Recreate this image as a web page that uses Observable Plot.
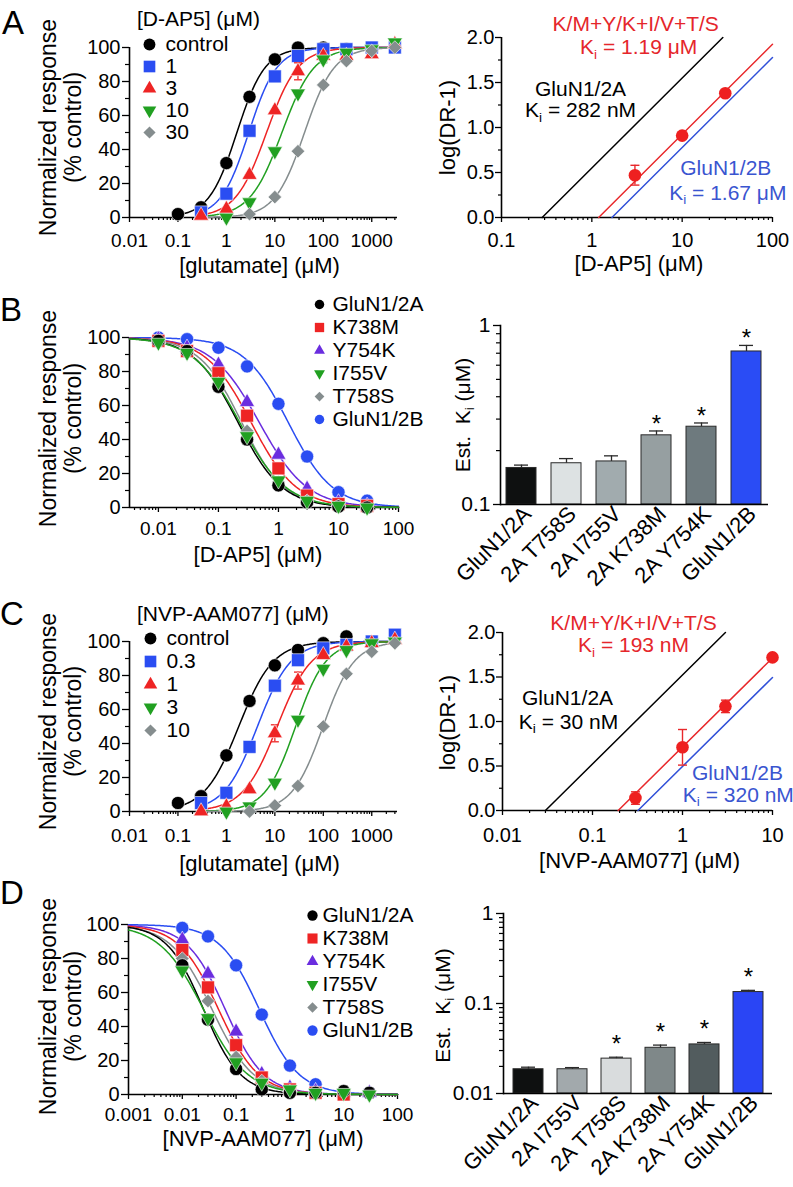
<!DOCTYPE html>
<html><head><meta charset="utf-8">
<script src="https://cdn.jsdelivr.net/npm/d3@7"></script>
<script src="https://cdn.jsdelivr.net/npm/@observablehq/plot@0.6"></script>
<style>
body{margin:0;background:#fff;}
#fig{position:relative;width:793px;height:1187px;overflow:hidden;background:#fff;font-family:"Liberation Sans",Arial,Helvetica,sans-serif;color:#000}
.p{position:absolute}
.letter{position:absolute;font-size:33px;line-height:33px}
.ltitle{position:absolute;font-size:21px;line-height:21px;white-space:nowrap}
</style></head>
<body><div id="fig"></div>
<script>
// ---------------- DATA ----------------
// Panel A (left): glutamate concentration-response in D-AP5
const aConc = [0.1, 0.3, 1, 3, 10, 30, 100, 300, 1000, 3000];
const aNames = ["control", "1", "3", "10", "30"];
const aResp = [
  [2, 6, 32, 71, 93, 100, 100, 99, 99, null],
  [null, 3, 14, 51, 83, 95, 99, 99, 100, 100],
  [null, 1, 5, 25, 63, 86, 95, 95, 96, 102],
  [null, null, 0, 9, 39, 73, 93, 97, 99, 103],
  [null, null, null, 2, 12, 39, 78, 92, 98, 100]
];
const aErr = [
  [0, 0, 0, 0, 0, 0, 0, 0, 0, 0],
  [0, 0, 0, 0, 0, 0, 0, 0, 0, 0],
  [0, 0, 0, 0, 0, 5, 3, 0, 0, 3],
  [0, 0, 0, 0, 0, 0, 2, 0, 0, 0],
  [0, 0, 0, 0, 0, 0, 0, 0, 0, 0]
];
const aEC50 = [1.65, 2.9, 6.75, 14, 41];
const aHill = [1.5, 1.5, 1.35, 1.31, 1.42];
const aCurveStart = [0.1, 0.3, 0.3, 0.3, 0.3];
const aColors = ["#000000", "#2a4df2", "#ee2424", "#21a021", "#858d8e"];
const aSymbols = ["circle", "square", "triangle", "triangleDown", "diamond"];
const aLegendTitle = "[D-AP5] (μM)";

// Panel A (right): Schild plot D-AP5
const sAConc = [3, 10, 30];
const sAVal = [0.47, 0.91, 1.38];
const sAErr = [0.11, 0.03, 0.03];
const sAKi = [0.282, 1.19, 1.67];
const sANoteText = ["K/M+Y/K+I/V+T/S", "K_i = 1.19 μM", "GluN1/2A", "K_i = 282 nM", "GluN1/2B", "K_i = 1.67 μM"];
const sANoteX = [3.06, 3.3, 0.75, 0.75, 30.4, 32];
const sANoteY = [2.15, 1.886, 1.43, 1.186, 0.552, 0.274];
const sANoteColor = ["red", "red", "black", "black", "blue", "blue"];

// Panel B (left): D-AP5 inhibition
const bConc = [0.01, 0.03, 0.1, 0.3, 1, 3, 10, 30];
const bNames = ["GluN1/2A", "K738M", "Y754K", "I755V", "T758S", "GluN1/2B"];
const bResp = [
  [98, 92, 71, 40, 13, 3, 0.5, 0],
  [98, 92, 79, 54, 23, 7, 2, 1],
  [99, 94, 84, 62, 31, 11, 3, 1],
  [97, 91, 74, 42, 16, 4, 1, 0],
  [98, 92, 73, 45, 15, 4, 1, 0],
  [100, 99, 94, 83, 61, 30, 9, 4]
];
const bIC50 = [0.213, 0.351, 0.48, 0.226, 0.245, 1.46];
const bHill = [1.18, 1.15, 1.09, 1.13, 1.22, 1.18];
const bColors = ["#000000", "#ee2424", "#6a2ddf", "#21a021", "#858d8e", "#2a4df2"];
const bSymbols = ["circle", "square", "triangle", "triangleDown", "diamond", "circle"];
const bOrder = [5, 2, 1, 4, 0, 3];

// Panel B (right): estimated Ki bars
const bBarLabels = ["GluN1/2A", "2A T758S", "2A I755V", "2A K738M", "2A Y754K", "GluN1/2B"];
const bBarKi = [0.160, 0.170, 0.174, 0.2435, 0.272, 0.716];
const bBarErr = [0.006, 0.0105, 0.013, 0.014, 0.0134, 0.058];
const bBarColors = ["#0e1010", "#dde2e3", "#a1abae", "#969fa1", "#6e7a7e", "#2a4cf5"];
const bBarSig = [false, false, false, true, true, true];

// Panel C (left): glutamate concentration-response in NVP-AAM077
const cConc = [0.1, 0.3, 1, 3, 10, 30, 100, 300, 1000, 3000];
const cNames = ["control", "0.3", "1", "3", "10"];
const cResp = [
  [5, 9, 33, 65, 86, 95, 99, 103, null, null],
  [null, 5, 11, 38, 74, 89, 96, 98, 100, 104],
  [null, 0, 3, 13, 46, 77, 92, 97, 99, 101],
  [null, null, 0, 3, 17, 54, 84, 95, 99, 100],
  [null, null, null, 0, 3.5, 15, 50, 81, 94, 99]
];
const cErr = [
  [0, 0, 0, 0, 0, 0, 0, 0, 0, 0],
  [0, 0, 0, 0, 0, 2, 0, 0, 0, 0],
  [0, 0, 0, 0, 5, 5, 0, 0, 0, 0],
  [0, 0, 0, 0, 0, 0, 0, 0, 0, 0],
  [0, 0, 0, 0, 0, 0, 0, 0, 0, 0]
];
const cEC50 = [1.8, 4.37, 11.2, 26.8, 99];
const cHill = [1.22, 1.26, 1.23, 1.4, 1.36];
const cCurveStart = [0.1, 0.3, 0.3, 0.3, 0.3];
const cColors = aColors;
const cSymbols = aSymbols;
const cLegendTitle = "[NVP-AAM077] (μM)";

// Panel C (right): Schild plot NVP-AAM077
const sCConc = [0.3, 1, 3, 10];
const sCVal = [0.14, 0.71, 1.17, 1.72];
const sCErr = [0.07, 0.2, 0.07, 0.02];
const sCKi = [0.030, 0.193, 0.320];
const sCNoteText = ["K/M+Y/K+I/V+T/S", "K_i = 193 nM", "GluN1/2A", "K_i = 30 nM", "GluN1/2B", "K_i = 320 nM"];
const sCNoteX = [0.2856, 0.2856, 0.0528, 0.0541, 4.08, 4.17];
const sCNoteY = [2.109, 1.851, 1.256, 0.987, 0.415, 0.168];
const sCNoteColor = sANoteColor;

// Panel D (left): NVP-AAM077 inhibition
const dConc = [0.01, 0.03, 0.1, 0.3, 1, 3, 10, 30];
const dNames = bNames;
const dResp = [
  [76, 44, 15, 3, 1, 1, 2, 1],
  [85, 63, 29, 10, 3, 1, 0, null],
  [91, 71, 37, 12, 4, 2, 1, 1],
  [73, 45, 19, 7, 3, 1, 1, 0],
  [80, 55, 22, 8, 2, 1, null, null],
  [98, 93, 76, 47, 17, 6, 1, 1]
];
const dErr = [
  [0, 0, 0, 0, 0, 0, 3, 3],
  [0, 0, 0, 0, 0, 0, 0, 0],
  [0, 0, 0, 0, 0, 0, 0, 0],
  [0, 0, 0, 0, 0, 0, 0, 0],
  [0, 0, 0, 0, 0, 0, 0, 0],
  [0, 0, 0, 0, 0, 0, 0, 3]
];
const dIC50 = [0.0249, 0.0473, 0.0629, 0.0249, 0.0358, 0.271];
const dHill = [1.27, 1.17, 1.21, 1.06, 1.13, 1.18];
const dColors = bColors;
const dSymbols = bSymbols;
const dOrder = [5, 2, 1, 4, 0, 3];

// Panel D (right): estimated Ki bars
const dBarLabels = ["GluN1/2A", "2A I755V", "2A T758S", "2A K738M", "2A Y754K", "GluN1/2B"];
const dBarKi = [0.0186, 0.0186, 0.0244, 0.0322, 0.0351, 0.134];
const dBarErr = [0.001, 0.0008, 0.0009, 0.0023, 0.0018, 0.006];
const dBarColors = ["#0e1010", "#a2a9ac", "#d9dcdd", "#7f8889", "#525c5e", "#2a45f5"];
const dBarSig = [false, false, true, true, true, true];

// Tick labels
const glutTicks = [0.01, 0.1, 1, 10, 100, 1000];
const glutTickLabels = ["0.01", "0.1", "1", "10", "100", "1000"];
const dap5Ticks = [0.01, 0.1, 1, 10, 100];
const dap5TickLabels = ["0.01", "0.1", "1", "10", "100"];
const nvpTicks = [0.001, 0.01, 0.1, 1, 10, 100];
const nvpTickLabels = ["0.001", "0.01", "0.1", "1", "10", "100"];
const respTicks = [0, 20, 40, 60, 80, 100];
const respTickLabels = ["0", "20", "40", "60", "80", "100"];
const respMinor = [10, 30, 50, 70, 90];
const schildYTicks = [0, 0.5, 1, 1.5, 2];
const schildYTickLabels = ["0.0", "0.5", "1.0", "1.5", "2.0"];
const schildYMinor = [0.25, 0.75, 1.25, 1.75];
const sAXTicks = [0.1, 1, 10, 100];
const sAXTickLabels = ["0.1", "1", "10", "100"];
const sCXTicks = [0.01, 0.1, 1, 10];
const sCXTickLabels = ["0.01", "0.1", "1", "10"];
const bBarYTicks = [0.1, 1];
const bBarYTickLabels = ["0.1", "1"];
const dBarYTicks = [0.01, 0.1, 1];
const dBarYTickLabels = ["0.01", "0.1", "1"];

// ---------------- HELPERS ----------------
const FONT = '"Liberation Sans", Arial, Helvetica, sans-serif';
const STYLE = {background: "transparent", fontFamily: FONT, fontSize: "20px", overflow: "visible"};
const NOTE_COLORS = {red: "#e5262b", black: "#000000", blue: "#3a55d0"};
const SCHILD_LINE = ["#000000", "#e8282b", "#3050d8"];

const TRI_DOWN = {draw(ctx, size) {
  const s3 = Math.sqrt(3), y = -Math.sqrt(size / (s3 * 3));
  ctx.moveTo(0, -y * 2); ctx.lineTo(-s3 * y, y); ctx.lineTo(s3 * y, y); ctx.closePath();
}};
const CAP = {draw(ctx, size) {
  const w = Math.sqrt(size / Math.PI);
  ctx.moveTo(-w, 0); ctx.lineTo(w, 0);
}};
const SYM = {
  circle: {symbol: "circle", r: 6.6},
  square: {symbol: "square", r: 7.3},
  triangle: {symbol: "triangle", r: 5.6},
  triangleDown: {symbol: TRI_DOWN, r: 5.6},
  diamond: {symbol: "diamond2", r: 6.1}
};

function logMinor(lo, hi) {
  const out = [];
  for (let e = Math.floor(Math.log10(lo)) - 1; e <= Math.ceil(Math.log10(hi)); e++)
    for (let k = 2; k <= 9; k++) { const v = k * Math.pow(10, e); if (v >= lo * 0.999 && v <= hi * 1.001) out.push(v); }
  return out;
}
function logSpace(a, b, n) {
  const la = Math.log10(a), lb = Math.log10(b);
  return d3.range(n + 1).map(i => Math.pow(10, la + (lb - la) * i / n));
}
const hillUp = (x, k, n) => 100 * Math.pow(x, n) / (Math.pow(x, n) + Math.pow(k, n));
const hillDown = (x, k, n) => 100 / (1 + Math.pow(x / k, n));
const fmt = (ticks, labels) => { const m = new Map(ticks.map((t, i) => [t, labels[i]])); return d => m.get(d) ?? ""; };

function subscriptKi(svg) {
  const ns = "http://www.w3.org/2000/svg";
  Array.from(svg.querySelectorAll("text")).forEach(t => {
    if (t.children.length === 0 && t.textContent.includes("K_i")) {
      const [a, b] = t.textContent.split("K_i");
      t.textContent = "";
      const add = (txt, attrs) => { const s = document.createElementNS(ns, "tspan"); s.textContent = txt; for (const k in attrs) s.setAttribute(k, attrs[k]); t.appendChild(s); };
      add(a + "K", {});
      add("i", {"font-size": "65%", "dy": "0.3em"});
      add(b, {"dy": "-0.195em"});
    }
  });
}
const fig = document.getElementById("fig");
function place(node, left, top, width) {
  const d = document.createElement("div");
  d.className = "p"; d.style.left = left + "px"; d.style.top = top + "px"; d.style.width = width + "px";
  d.appendChild(node); fig.appendChild(d); subscriptKi(node);
}
function htmlText(cls, txt, left, top) {
  const d = document.createElement("div"); d.className = cls; d.textContent = txt;
  d.style.left = left + "px"; d.style.top = top + "px"; fig.appendChild(d);
}
const rotLabel = (txt, dx, dy, fs = 21) => Plot.text([txt], {text: d => d, frameAnchor: "left", rotate: -90, dx, dy, fontSize: fs, textAnchor: "middle", lineAnchor: "middle"});
const bottomLabel = (txt, dx, dy) => Plot.text([txt], {text: d => d, frameAnchor: "bottom", dx, dy, fontSize: 22, textAnchor: "middle", lineAnchor: "middle"});

// ---- concentration-response plot ----
function doseResponse(c) {
  const marks = [
    Plot.axisX({ticks: logMinor(c.xDomain[0], c.xDomain[1]), tickSize: 3, tickFormat: () => "", strokeWidth: 1.2, label: null}),
    Plot.axisX({ticks: c.xTicks, tickSize: 5, tickPadding: c.xTickPad, tickFormat: fmt(c.xTicks, c.xTickLabels), fontSize: 19, strokeWidth: 1.3, label: null}),
    Plot.axisY({ticks: respMinor, tickSize: 4, tickFormat: () => "", strokeWidth: 1.2, label: null}),
    Plot.axisY({ticks: respTicks, tickSize: 7, tickPadding: 2, tickFormat: fmt(respTicks, respTickLabels), fontSize: 20, strokeWidth: 1.3, label: null}),
    Plot.ruleY([0], {strokeWidth: 1.6}),
    Plot.ruleX([c.xDomain[0]], {strokeWidth: 1.6})
  ];
  const order = c.order || c.resp.map((_, i) => i);
  for (const i of order) {
    const xs = logSpace(c.curveStart ? c.curveStart[i] : c.xDomain[0], c.xDomain[1], 240);
    const pts = xs.map(x => ({x, y: c.up ? hillUp(x, c.k[i], c.n[i]) : hillDown(x, c.k[i], c.n[i])}));
    marks.push(Plot.line(pts, {x: "x", y: "y", stroke: c.colors[i], strokeWidth: 1.5}));
  }
  for (const i of order) {
    const pts = c.conc.map((x, j) => ({x, y: c.resp[i][j], e: c.err ? c.err[i][j] : 0})).filter(d => d.y != null);
    const ep = pts.filter(d => d.e > 0);
    marks.push(Plot.ruleX(ep, {x: "x", y1: d => d.y - d.e, y2: d => d.y + d.e, stroke: c.colors[i], strokeWidth: 1.3}));
    marks.push(Plot.dot(ep.flatMap(d => [{x: d.x, y: d.y - d.e}, {x: d.x, y: d.y + d.e}]), {x: "x", y: "y", symbol: CAP, r: 4, stroke: c.colors[i], fill: "none", strokeWidth: 1.3}));
    const s = SYM[c.symbols[i]];
    marks.push(Plot.dot(pts, {x: "x", y: "y", symbol: s.symbol, r: s.r, fill: c.colors[i], stroke: "white", strokeWidth: 0.6}));
  }
  marks.push(bottomLabel(c.xLabel, c.xLabelDx, c.xLabelDy));
  marks.push(rotLabel("Normalized response", c.yLabelDx[0], c.yLabelDy, 23));
  marks.push(rotLabel("(% control)", c.yLabelDx[1], c.yLabelDy, 23));
  return Plot.plot({
    width: c.width, height: c.height, marginLeft: c.ml, marginRight: c.mr, marginTop: c.mt, marginBottom: c.mb,
    style: STYLE, x: {type: "log", domain: c.xDomain}, y: {domain: [0, 100]}, marks
  });
}

// ---- Schild plot ----
function schild(c) {
  const marks = [
    Plot.axisX({ticks: logMinor(c.xDomain[0], c.xDomain[1]), tickSize: 3, tickFormat: () => "", strokeWidth: 1.2, label: null}),
    Plot.axisX({ticks: c.xTicks, tickSize: 5, tickPadding: c.xTickPad, tickFormat: fmt(c.xTicks, c.xTickLabels), fontSize: 20, strokeWidth: 1.3, label: null}),
    Plot.axisY({ticks: schildYMinor, tickSize: 3, tickFormat: () => "", strokeWidth: 1.2, label: null}),
    Plot.axisY({ticks: schildYTicks, tickSize: 6, tickPadding: 1, tickFormat: fmt(schildYTicks, schildYTickLabels), fontSize: 20, strokeWidth: 1.3, label: null}),
    Plot.ruleY([0], {strokeWidth: 1.6}),
    Plot.ruleX([c.xDomain[0]], {strokeWidth: 1.6})
  ];
  c.Ki.forEach((k, i) => {
    const xEnd = Math.min(c.xDomain[1], k * 100);
    marks.push(Plot.line([{x: k, y: 0}, {x: xEnd, y: Math.log10(xEnd / k)}], {x: "x", y: "y", stroke: SCHILD_LINE[i], strokeWidth: 1.5}));
  });
  const pts = c.conc.map((x, j) => ({x, y: c.val[j], e: c.err[j]}));
  marks.push(Plot.ruleX(pts, {x: "x", y1: d => d.y - d.e, y2: d => d.y + d.e, stroke: "#e8282b", strokeWidth: 1.4}));
  marks.push(Plot.dot(pts.flatMap(d => [{x: d.x, y: d.y - d.e}, {x: d.x, y: d.y + d.e}]), {x: "x", y: "y", symbol: CAP, r: 4.5, stroke: "#e8282b", fill: "none", strokeWidth: 1.4}));
  marks.push(Plot.dot(pts, {x: "x", y: "y", r: 6.3, fill: "#ee2020"}));
  const notes = c.noteText.map((t, i) => ({t, x: c.noteX[i], y: c.noteY[i], f: NOTE_COLORS[c.noteColor[i]]}));
  marks.push(Plot.text(notes, {x: "x", y: "y", text: "t", fill: d => d.f, fontSize: 21, lineAnchor: "middle"}));
  marks.push(bottomLabel(c.xLabel, c.xLabelDx, c.xLabelDy));
  marks.push(rotLabel("log(DR-1)", c.yLabelDx, c.yLabelDy, 22));
  return Plot.plot({
    width: c.width, height: c.height, marginLeft: c.ml, marginRight: c.mr, marginTop: c.mt, marginBottom: c.mb,
    style: STYLE, color: {type: "identity"}, x: {type: "log", domain: c.xDomain}, y: {domain: [0, 2]}, marks
  });
}

// ---- Ki bar plot ----
function kiBars(c) {
  const data = c.labels.map((l, i) => ({l, v: c.ki[i], e: c.err[i], col: c.colors[i], sig: c.sig[i]}));
  const lo = c.yDomain[0];
  const marks = [
    Plot.barY(data, {x: "l", y1: () => lo, y2: "v", fill: "col", stroke: "#2a2a2a", strokeWidth: 1}),
    Plot.ruleX(data, {x: "l", y1: "v", y2: d => d.v + d.e, stroke: "#2a2a2a", strokeWidth: 1.3}),
    Plot.tickY(data, {x: "l", y: d => d.v + d.e, stroke: "#2a2a2a", strokeWidth: 1.3, insetLeft: 8, insetRight: 8}),
    Plot.text(data.filter(d => d.sig), {x: "l", y: d => d.v + d.e, text: () => "*", dy: c.starDy, fontSize: 24, lineAnchor: "middle"}),
    Plot.axisY({ticks: logMinor(c.yDomain[0], c.yDomain[1]).filter(v => !c.yTicks.includes(v)), tickSize: 4, tickFormat: () => "", strokeWidth: 1.2, label: null}),
    Plot.axisY({ticks: c.yTicks, tickSize: 7, tickPadding: 3, tickFormat: fmt(c.yTicks, c.yTickLabels), fontSize: 21, strokeWidth: 1.3, label: null}),
    Plot.axisX({tickRotate: -45, tickSize: 0, tickPadding: c.xTickPad, dx: 6, fontSize: 22, label: null}),
    Plot.ruleY([lo], {strokeWidth: 1.6}),
    Plot.frame({anchor: "left", strokeWidth: 1.6}),
    rotLabel("Est.  K_i (μM)", c.yLabelDx, c.yLabelDy, 21)
  ];
  return Plot.plot({
    width: c.width, height: c.height, marginLeft: c.ml, marginRight: c.mr, marginTop: c.mt, marginBottom: c.mb,
    style: STYLE, color: {type: "identity"},
    x: {type: "band", domain: c.labels, paddingInner: c.pi, paddingOuter: c.po},
    y: {type: "log", domain: c.yDomain}, marks
  });
}

// ---- legend ----
function legend(c) {
  const marks = [];
  c.names.forEach((n, i) => {
    const s = SYM[c.symbols[i]];
    marks.push(Plot.dot([n], {x: () => 0, y: d => d, symbol: s.symbol, r: s.r * c.scale, fill: c.colors[i]}));
  });
  marks.push(Plot.text(c.names, {x: () => 1, y: d => d, text: d => d, textAnchor: "start", fontSize: 21, lineAnchor: "middle"}));
  return Plot.plot({
    width: c.width, height: c.height, margin: 0, style: STYLE, axis: null,
    x: {domain: [0, 1], range: c.xRange}, y: {type: "point", domain: c.names, range: c.yRange, padding: 0}, marks
  });
}

// ---------------- BUILD ----------------
// Row A
place(doseResponse({width: 400, height: 290, ml: 129, mr: 3, mt: 47, mb: 73, xDomain: [0.01, 3400],
  xTicks: glutTicks, xTickLabels: glutTickLabels, xTickPad: 11, conc: aConc, resp: aResp, err: aErr,
  k: aEC50, n: aHill, up: true, curveStart: aCurveStart, colors: aColors, symbols: aSymbols,
  xLabel: "[glutamate] (μM)", xLabelDx: -4, xLabelDy: 48, yLabelDx: [-81, -56], yLabelDy: -5}), 0, 0, 400);
place(legend({width: 300, height: 150, names: aNames, colors: aColors, symbols: aSymbols, scale: 0.9,
  xRange: [149, 165], yRange: [43, 133]}), 0, 0, 300);
htmlText("ltitle", aLegendTitle, 137, 8);
place(schild({width: 393, height: 290, ml: 101, mr: 21, mt: 37, mb: 73, xDomain: [0.1, 100],
  xTicks: sAXTicks, xTickLabels: sAXTickLabels, xTickPad: 10, Ki: sAKi, conc: sAConc, val: sAVal, err: sAErr,
  noteText: sANoteText, noteX: sANoteX, noteY: sANoteY, noteColor: sANoteColor,
  xLabel: "[D-AP5] (μM)", xLabelDx: 2, xLabelDy: 46, yLabelDx: -54, yLabelDy: 0}), 400, 0, 393);

// Row B
place(doseResponse({width: 400, height: 290, ml: 129, mr: 2, mt: 47, mb: 73, xDomain: [0.0033, 100],
  xTicks: dap5Ticks, xTickLabels: dap5TickLabels, xTickPad: 9, conc: bConc, resp: bResp,
  k: bIC50, n: bHill, up: false, colors: bColors, symbols: bSymbols, order: bOrder,
  xLabel: "[D-AP5] (μM)", xLabelDx: -6, xLabelDy: 47, yLabelDx: [-81, -56], yLabelDy: -4}), 0, 290, 400);
place(kiBars({width: 393, height: 300, ml: 100, mr: 25, mt: 35, mb: 86, yDomain: [0.1, 1],
  yTicks: bBarYTicks, yTickLabels: bBarYTickLabels, labels: bBarLabels, ki: bBarKi, err: bBarErr,
  colors: bBarColors, sig: bBarSig, pi: 0.33, po: 0.13, starDy: -7, xTickPad: 6, yLabelDx: -37, yLabelDy: 0}), 400, 290, 393);
place(legend({width: 480, height: 150, names: bNames, colors: bColors, symbols: bSymbols, scale: 0.72,
  xRange: [319, 332], yRange: [12, 130]}), 0, 290, 480);

// Row C
place(doseResponse({width: 400, height: 300, ml: 129, mr: 3, mt: 61, mb: 69, xDomain: [0.01, 3400],
  xTicks: glutTicks, xTickLabels: glutTickLabels, xTickPad: 12, conc: cConc, resp: cResp, err: cErr,
  k: cEC50, n: cHill, up: true, curveStart: cCurveStart, colors: cColors, symbols: cSymbols,
  xLabel: "[glutamate] (μM)", xLabelDx: -4, xLabelDy: 52, yLabelDx: [-81, -56], yLabelDy: -5}), 0, 580, 400);
place(legend({width: 300, height: 160, names: cNames, colors: cColors, symbols: cSymbols, scale: 0.9,
  xRange: [150, 166], yRange: [58, 150]}), 0, 580, 300);
htmlText("ltitle", cLegendTitle, 137, 603);
place(schild({width: 393, height: 300, ml: 102, mr: 21, mt: 52, mb: 70, xDomain: [0.01, 10],
  xTicks: sCXTicks, xTickLabels: sCXTickLabels, xTickPad: 12, Ki: sCKi, conc: sCConc, val: sCVal, err: sCErr,
  noteText: sCNoteText, noteX: sCNoteX, noteY: sCNoteY, noteColor: sCNoteColor,
  xLabel: "[NVP-AAM077] (μM)", xLabelDx: 2, xLabelDy: 50, yLabelDx: -55, yLabelDy: 1}), 400, 580, 393);

// Row D
place(doseResponse({width: 400, height: 300, ml: 128, mr: 3, mt: 54, mb: 76, xDomain: [0.001, 100],
  xTicks: nvpTicks, xTickLabels: nvpTickLabels, xTickPad: 8, conc: dConc, resp: dResp, err: dErr,
  k: dIC50, n: dHill, up: false, colors: dColors, symbols: dSymbols, order: dOrder,
  xLabel: "[NVP-AAM077] (μM)", xLabelDx: 0, xLabelDy: 44, yLabelDx: [-80, -55], yLabelDy: -3}), 0, 870, 400);
place(kiBars({width: 393, height: 317, ml: 103, mr: 21, mt: 43, mb: 94, yDomain: [0.01, 1],
  yTicks: dBarYTicks, yTickLabels: dBarYTickLabels, labels: dBarLabels, ki: dBarKi, err: dBarErr,
  colors: dBarColors, sig: dBarSig, pi: 0.32, po: 0.16, starDy: -13, xTickPad: 6, yLabelDx: -60, yLabelDy: 2}), 400, 870, 393);
place(legend({width: 480, height: 180, names: dNames, colors: dColors, symbols: dSymbols, scale: 0.78,
  xRange: [312, 322], yRange: [43, 162]}), 0, 870, 480);

// Panel letters
htmlText("letter", "A", 2, 6);
htmlText("letter", "B", 0, 293);
htmlText("letter", "C", 0, 597);
htmlText("letter", "D", 0, 876);
</script>
</body></html>
